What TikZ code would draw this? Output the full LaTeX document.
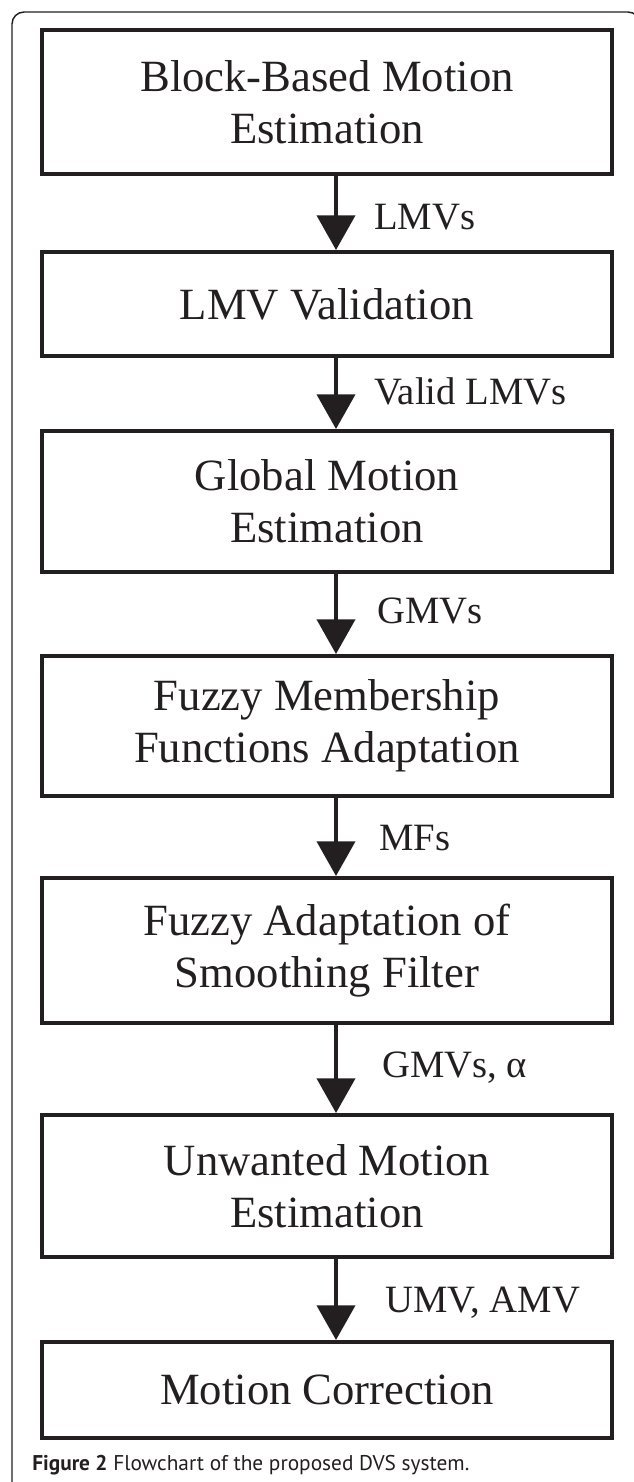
\documentclass[tikz,border=0pt]{standalone}
\usepackage{fontspec}
\setmainfont{Liberation Serif}
\newfontfamily\capfont{PT Sans}
\usetikzlibrary{arrows.meta}

\definecolor{inkgray}{RGB}{35,31,32}

\begin{document}
\begin{tikzpicture}[x=0.75pt,y=0.75pt,yscale=-1,xscale=1,
  stage/.style={draw=inkgray, line width=3pt, minimum width=427.5pt, inner sep=0pt,
    align=center, text=inkgray, font=\fontsize{33.5}{39}\selectfont},
  flow/.style={draw=inkgray, line width=3pt, -{Triangle[width=28.5pt,length=26pt]}},
  flowlabel/.style={anchor=west, inner sep=0pt, text=inkgray, font=\fontsize{29}{34}\selectfont}]
\useasboundingbox (0,0) rectangle (633,1482);

%Shape: Frame
\draw [color=inkgray, line width=1.1pt, rounded corners=9pt] (12,1500) -- (12,12) -- (640,12) -- (640,60) ;

%Shape: Rectangle
\node [stage, minimum height=108pt] (bbme) at (327,102) {Block-Based Motion\\Estimation};
%Shape: Rectangle
\node [stage, minimum height=78pt] (lmvv) at (327,304) {LMV Validation};
%Shape: Rectangle
\node [stage, minimum height=105.75pt] (gme) at (327,501.5) {Global Motion\\Estimation};
%Shape: Rectangle
\node [stage, minimum height=105pt] (fmfa) at (327,726) {Fuzzy Membership\\Functions Adaptation};
%Shape: Rectangle
\node [stage, minimum height=108.75pt] (fasf) at (327,950.5) {Fuzzy Adaptation of\\Smoothing Filter};
%Shape: Rectangle
\node [stage, minimum height=106.5pt] (ume) at (327,1186) {Unwanted Motion\\Estimation};
%Shape: Rectangle
\node [stage, minimum height=72pt] (mc) at (327,1390) {Motion Correction};

%Straight Lines
\draw [flow] ([xshift=6.75pt]bbme.south) -- ([xshift=6.75pt]lmvv.north) ;
\draw [flow] ([xshift=6.75pt]lmvv.south) -- ([xshift=6.75pt]gme.north) ;
\draw [flow] ([xshift=6.75pt]gme.south) -- ([xshift=6.75pt]fmfa.north) ;
\draw [flow] ([xshift=6.75pt]fmfa.south) -- ([xshift=6.75pt]fasf.north) ;
\draw [flow] ([xshift=6.75pt]fasf.south) -- ([xshift=6.75pt]ume.north) ;
\draw [flow] ([xshift=6.75pt]ume.south) -- ([xshift=6.75pt]mc.north) ;

% Text Node
\node [flowlabel] (lmvs) at (374,217) {LMVs};
% Text Node
\node [flowlabel] (vlmvs) at (374,391) {Valid LMVs};
% Text Node
\node [flowlabel] (gmvs) at (377,611) {GMVs};
% Text Node
\node [flowlabel] (mfs) at (379,838) {MFs};
% Text Node
\node [flowlabel] (gmvsa) at (382,1068) {GMVs, α};
% Text Node
\node [flowlabel] (umv) at (385,1303) {UMV, AMV};

% Text Node
\node [anchor=west, inner sep=0pt, text=inkgray, font=\capfont\fontsize{16}{19}\selectfont] (cap) at (32,1465) {\textbf{Figure 2} Flowchart of the proposed DVS system.};

\end{tikzpicture}
\end{document}
